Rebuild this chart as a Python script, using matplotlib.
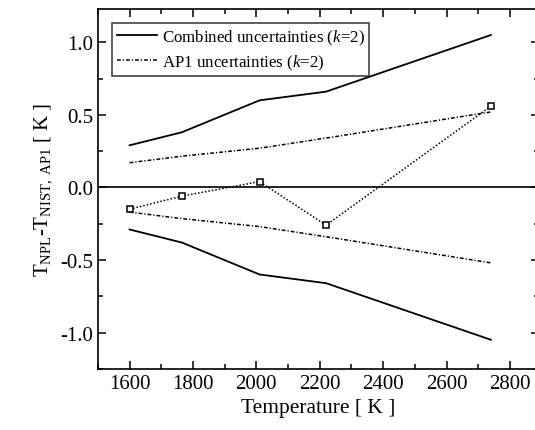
import numpy as np
import matplotlib
matplotlib.use("Agg")
import matplotlib.pyplot as plt
from matplotlib.ticker import MultipleLocator

plt.rcParams['font.family'] = ['Liberation Serif', 'DejaVu Serif']
plt.rcParams['mathtext.fontset'] = 'custom'
plt.rcParams['mathtext.rm'] = 'Liberation Serif'
plt.rcParams['mathtext.it'] = 'Liberation Serif:italic'

# data
temp = [1600, 1765, 2010, 2220, 2740]
diff = [-0.15, -0.06, 0.04, -0.26, 0.56]
combined_unc = [0.29, 0.38, 0.60, 0.66, 1.05]
ap1_unc = [0.17, 0.215, 0.27, 0.34, 0.52]

combined_unc = np.array(combined_unc)
ap1_unc = np.array(ap1_unc)

fig = plt.figure(figsize=(5.35, 4.31), dpi=100)
ax = fig.add_axes([0.183, 0.142, 0.824, 0.835])

dashdot = (0, (2.5, 1.3, 0.8, 1.3))

ax.axhline(0, color='black', lw=1.2)
ax.plot(temp, combined_unc, color='black', lw=1.3, label='Combined uncertainties ($k$=2)')
ax.plot(temp, -combined_unc, color='black', lw=1.3)
ax.plot(temp, ap1_unc, color='black', lw=1.1, ls=dashdot,
        label='AP1 uncertainties ($k$=2)')
ax.plot(temp, -ap1_unc, color='black', lw=1.1, ls=dashdot)
ax.plot(temp, diff, color='black', lw=1.1, ls=(0, (1, 1.3)), marker='s', ms=4.2,
        mfc='white', mec='black', mew=1.1)

ax.set_xlim(1500, 2891)
ax.set_ylim(-1.25, 1.23)
ax.xaxis.set_major_locator(MultipleLocator(200))
ax.xaxis.set_minor_locator(MultipleLocator(100))
ax.yaxis.set_major_locator(MultipleLocator(0.5))
ax.yaxis.set_minor_locator(MultipleLocator(0.25))
ax.yaxis.set_major_formatter(plt.FormatStrFormatter('%.1f'))
ax.tick_params(which='both', direction='in', top=True, right=True, labelsize=15)
ax.tick_params(which='major', length=6, width=1.1)
ax.tick_params(which='minor', length=3.5, width=1.1)
for s in ax.spines.values():
    s.set_linewidth(1.2)
# right spine is cut off in the original picture
ax.spines['right'].set_visible(False)

ax.set_xlabel('Temperature [ K ]', fontsize=15.5)
ax.set_ylabel(r'T$_{\rm NPL}$-T$_{\rm NIST,\ AP1}$ [ K ]', fontsize=15)

leg = ax.legend(loc='upper left', fontsize=12.2, frameon=True, fancybox=False,
                edgecolor='black', borderaxespad=0.85, handlelength=2.4,
                borderpad=0.25, labelspacing=0.35, handletextpad=0.3)
leg.get_frame().set_linewidth(1.1)

fig.savefig('out.png', dpi=100)
